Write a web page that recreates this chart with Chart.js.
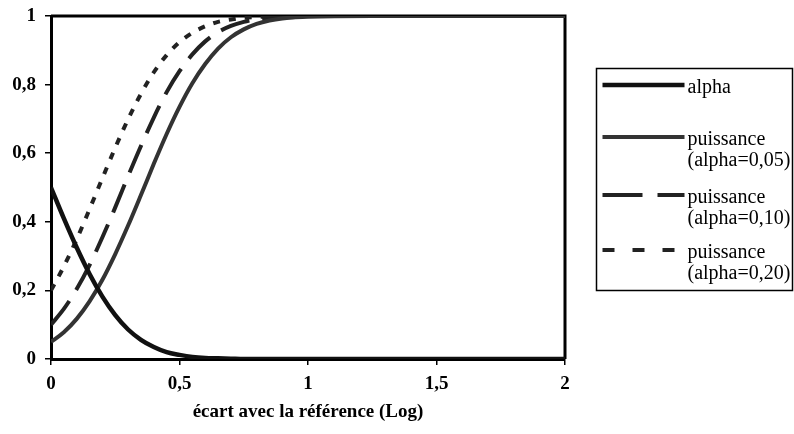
<!DOCTYPE html>
<html>
<head>
<meta charset="utf-8">
<script src="https://cdn.jsdelivr.net/npm/chart.js@4/dist/chart.umd.min.js"></script>
<style>
    html, body { margin: 0; padding: 0; background: #fff; }
    #wrap { width: 794px; height: 434px; position: relative; }
</style>
</head>
<body>
<div id="wrap"><canvas id="powerChart"></canvas></div>
<script>
// Values
const ecart = [0, 0.05, 0.1, 0.15, 0.2, 0.25, 0.3, 0.35, 0.4, 0.45, 0.5, 0.55, 0.6, 0.65, 0.7, 0.75, 0.8, 0.85, 0.9, 0.95, 1.0, 1.25, 1.5, 1.75, 2];
const alpha = [0.5, 0.41, 0.325, 0.248, 0.182, 0.128, 0.086, 0.056, 0.035, 0.02, 0.012, 0.006, 0.003, 0.002, 0.001, 0, 0, 0, 0, 0, 0, 0, 0, 0, 0];
const puissance05 = [0.05, 0.078, 0.117, 0.168, 0.231, 0.306, 0.389, 0.478, 0.569, 0.656, 0.735, 0.804, 0.86, 0.905, 0.938, 0.961, 0.977, 0.987, 0.993, 0.996, 0.998, 1, 1, 1, 1];
const puissance10 = [0.1, 0.146, 0.204, 0.274, 0.355, 0.442, 0.533, 0.621, 0.704, 0.778, 0.839, 0.888, 0.926, 0.953, 0.971, 0.983, 0.991, 0.995, 0.998, 0.999, 1, 1, 1, 1, 1];
const puissance20 = [0.2, 0.27, 0.349, 0.437, 0.527, 0.616, 0.699, 0.773, 0.836, 0.886, 0.924, 0.951, 0.97, 0.983, 0.99, 0.995, 0.997, 0.999, 1, 1, 1, 1, 1, 1, 1];
const seriesLabels = ['alpha', 'puissance\n(alpha=0,05)', 'puissance\n(alpha=0,10)', 'puissance\n(alpha=0,20)'];
const xTicks = [0, 0.5, 1, 1.5, 2];
const yTicks = [0, 0.2, 0.4, 0.6, 0.8, 1];
const xTitle = 'écart avec la référence (Log)';

const serif = "'Liberation Serif', 'Times New Roman', serif";

function toPoints(ys) {
    return ecart.map((x, i) => ({ x: x, y: ys[i] }));
}

function fmt(v) {
    return String(v).replace('.', ',');
}

// frame on top / right of the plot area
const framePlugin = {
    id: 'frame',
    beforeDatasetsDraw(chart) {
        const { ctx, chartArea: a } = chart;
        ctx.save();
        ctx.strokeStyle = '#000';
        ctx.lineWidth = 3;
        ctx.beginPath();
        ctx.moveTo(a.left, a.top);
        ctx.lineTo(a.right, a.top);
        ctx.lineTo(a.right, a.bottom);
        ctx.stroke();
        ctx.restore();
    }
};

// legend box drawn by hand, labels wrap on two lines
const boxLegend = {
    id: 'boxLegend',
    afterDraw(chart, args, opts) {
        const ctx = chart.ctx;
        ctx.save();
        ctx.strokeStyle = '#000';
        ctx.lineWidth = 1.5;
        ctx.strokeRect(opts.left, opts.top, opts.width, opts.height);
        ctx.font = '20px ' + serif;
        ctx.fillStyle = '#000';
        ctx.textBaseline = 'middle';
        chart.data.datasets.forEach((ds, i) => {
            const y = opts.rows[i];
            ctx.strokeStyle = ds.borderColor;
            ctx.lineWidth = ds.borderWidth;
            ctx.setLineDash(opts.dashes[i]);
            ctx.beginPath();
            ctx.moveTo(opts.left + 6, y);
            ctx.lineTo(opts.left + 88, y);
            ctx.stroke();
            ctx.setLineDash([]);
            ds.label.split('\n').forEach((line, j) => {
                ctx.fillText(line, opts.left + 91, y + 3 + j * 21);
            });
        });
        ctx.restore();
    }
};

const canvas = document.getElementById('powerChart');
new Chart(canvas, {
    type: 'line',
    data: {
        datasets: [
            {
                label: seriesLabels[0],
                data: toPoints(alpha),
                borderColor: '#111',
                borderWidth: 4.5
            },
            {
                label: seriesLabels[1],
                data: toPoints(puissance05),
                borderColor: '#333',
                borderWidth: 4
            },
            {
                label: seriesLabels[2],
                data: toPoints(puissance10),
                borderColor: '#222',
                borderWidth: 4,
                borderDash: [30, 13]
            },
            {
                label: seriesLabels[3],
                data: toPoints(puissance20),
                borderColor: '#222',
                borderWidth: 4,
                borderDash: [7, 9]
            }
        ]
    },
    options: {
        responsive: true,
        maintainAspectRatio: false,
        animation: false,
        elements: {
            point: { radius: 0 },
            line: { cubicInterpolationMode: 'monotone', fill: false }
        },
        layout: { padding: { top: 16, right: 229, left: 0, bottom: 0 } },
        scales: {
            x: {
                type: 'linear',
                min: 0,
                max: 2,
                afterBuildTicks: (s) => { s.ticks = xTicks.map(v => ({ value: v })); },
                afterFit: (s) => { s.height = 75; },
                ticks: {
                    color: '#000',
                    padding: 8,
                    maxRotation: 0,
                    font: { family: serif, size: 19, weight: 'bold' },
                    callback: (v) => fmt(v)
                },
                grid: { display: true, drawOnChartArea: false, drawTicks: true, tickLength: 6, color: '#000', lineWidth: 1.5 },
                border: { display: true, color: '#000', width: 3 },
                title: {
                    display: true,
                    text: xTitle,
                    color: '#000',
                    padding: { top: 0, bottom: 11 },
                    font: { family: serif, size: 19, weight: 'bold' }
                }
            },
            y: {
                min: 0,
                max: 1,
                afterBuildTicks: (s) => { s.ticks = yTicks.map(v => ({ value: v })); },
                afterFit: (s) => { s.width = 51; s.paddingTop = 0; s.paddingBottom = 0; },
                ticks: {
                    color: '#000',
                    padding: 9,
                    font: { family: serif, size: 19, weight: 'bold', lineHeight: 1 },
                    callback: (v) => fmt(v)
                },
                grid: { display: true, drawOnChartArea: false, drawTicks: true, tickLength: 6, color: '#000', lineWidth: 1.5 },
                border: { display: true, color: '#000', width: 3 }
            }
        },
        plugins: {
            legend: { display: false },
            tooltip: { enabled: false },
            boxLegend: {
                left: 596.5,
                top: 68.5,
                width: 196,
                height: 222,
                rows: [85, 137, 195, 250],
                dashes: [[], [], [40, 15], [12, 18]]
            }
        }
    },
    plugins: [framePlugin, boxLegend]
});
</script>
</body>
</html>
